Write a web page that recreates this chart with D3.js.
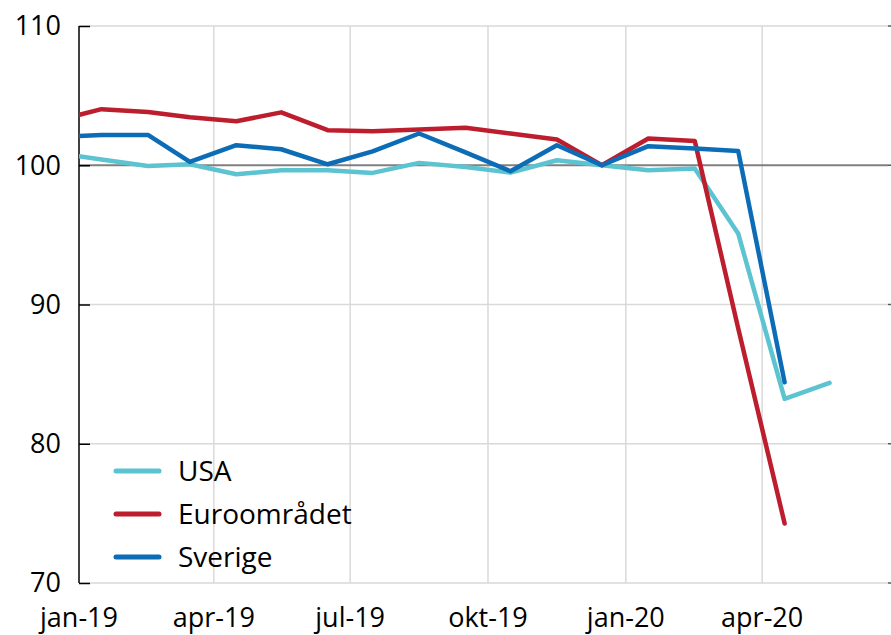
<!DOCTYPE html>
<html>
<head>
<meta charset="utf-8">
<script src="https://cdn.jsdelivr.net/npm/d3@7"></script>
<style>
    body { margin: 0; background: #fff; }
    svg { display: block; font-family: "Open Sans", sans-serif; }
</style>
</head>
<body>
<svg id="chart"></svg>
<script>
// månadsdata, dec-18 .. maj-20 (index, dec 2019 = 100)
const months = ["2018-12", "2019-01", "2019-02", "2019-03", "2019-04", "2019-05", "2019-06",
    "2019-07", "2019-08", "2019-09", "2019-10", "2019-11", "2019-12",
    "2020-01", "2020-02", "2020-03", "2020-04", "2020-05"];

const usa = [100.88, 100.42, 99.95, 100.07, 99.35, 99.64, 99.64, 99.45, 100.17,
    99.88, 99.47, 100.36, 100.0, 99.64, 99.76, 95.1, 83.22, 84.37];

const euro = [103.17, 104.03, 103.83, 103.45, 103.16, 103.8, 102.52, 102.45, 102.57,
    102.69, 102.28, 101.85, 100.0, 101.92, 101.75, 88.3, 74.27, null];

const sverige = [102.0, 102.18, 102.18, 100.24, 101.44, 101.15, 100.07, 101.0, 102.28,
    100.93, 99.57, 101.44, 100.0, 101.37, 101.2, 101.03, 84.41, null];

const seriesNames = ["USA", "Euroområdet", "Sverige"];
const seriesColors = ["#5cc3d1", "#bd1e2e", "#0c6db6"];

const tickMonths = ["2019-01", "2019-04", "2019-07", "2019-10", "2020-01", "2020-04"];
const tickLabels = ["jan-19", "apr-19", "jul-19", "okt-19", "jan-20", "apr-20"];
const yTicks = [70, 80, 90, 100, 110];

const width = 891;
const height = 635;
const margin = { top: 26, right: 3, bottom: 52, left: 79 };

const parseMonth = d3.timeParse("%Y-%m");
const midMonth = m => d3.timeDay.offset(parseMonth(m), 15);

const svg = d3.select("#chart")
    .attr("width", width)
    .attr("height", height);

const xScale = d3.scaleTime()
    .domain([new Date(2019, 0, 1), new Date(2020, 5, 24)])
    .range([margin.left, width - margin.right]);

const yScale = d3.scaleLinear()
    .domain([70, 110])
    .range([height - margin.bottom, margin.top]);

const x0 = margin.left;
const x1 = width - margin.right;

// horisontella stödlinjer
svg.append("g")
    .selectAll("line")
    .data(yTicks.filter(d => d !== 100))
    .enter()
    .append("line")
    .attr("x1", x0)
    .attr("x2", x1)
    .attr("y1", d => yScale(d))
    .attr("y2", d => yScale(d))
    .attr("stroke", "#d9d9d9")
    .attr("stroke-width", 1.5);

// vertikala stödlinjer
svg.append("g")
    .selectAll("line")
    .data(tickMonths.slice(1))
    .enter()
    .append("line")
    .attr("x1", d => xScale(parseMonth(d)))
    .attr("x2", d => xScale(parseMonth(d)))
    .attr("y1", yScale(110))
    .attr("y2", yScale(70))
    .attr("stroke", "#d9d9d9")
    .attr("stroke-width", 1.5);

// 100-linjen
svg.append("line")
    .attr("x1", x0)
    .attr("x2", x1)
    .attr("y1", yScale(100))
    .attr("y2", yScale(100))
    .attr("stroke", "#7f7f7f")
    .attr("stroke-width", 2);

// små streck i högerkanten
svg.append("g")
    .selectAll("line")
    .data(yTicks)
    .enter()
    .append("line")
    .attr("x1", x1)
    .attr("x2", width)
    .attr("y1", d => yScale(d))
    .attr("y2", d => yScale(d))
    .attr("stroke", "#595959")
    .attr("stroke-width", 1.5);

// y-axel
const yAxis = svg.append("g")
    .attr("transform", `translate(${x0},0)`)
    .call(d3.axisRight(yScale).tickValues(yTicks).tickSize(11).tickFormat(""));

yAxis.select(".domain").attr("d", `M0,${yScale(110)}V${yScale(70)}`).attr("stroke", "#000").attr("stroke-width", 1.5);
yAxis.selectAll(".tick line").attr("stroke", "#000").attr("stroke-width", 1.5);

svg.append("g")
    .selectAll("text")
    .data(yTicks)
    .enter()
    .append("text")
    .attr("x", 61)
    .attr("y", d => yScale(d))
    .attr("dy", "0.35em")
    .attr("text-anchor", "end")
    .attr("font-size", 27)
    .attr("fill", "#000")
    .text(d => d);

// x-etiketter
svg.append("g")
    .selectAll("text")
    .data(tickMonths)
    .enter()
    .append("text")
    .attr("x", d => xScale(parseMonth(d)))
    .attr("y", 627)
    .attr("text-anchor", "middle")
    .attr("font-size", 27)
    .attr("fill", "#000")
    .text((d, i) => tickLabels[i]);

// serier
svg.append("clipPath")
    .attr("id", "plot-clip")
    .append("rect")
    .attr("x", x0)
    .attr("y", 0)
    .attr("width", x1 - x0)
    .attr("height", height);

const line = d3.line()
    .defined(d => d.value !== null)
    .x(d => xScale(d.date))
    .y(d => yScale(d.value));

const seriesData = [usa, euro, sverige].map(values =>
    values.map((v, i) => ({ date: midMonth(months[i]), value: v })));

svg.append("g")
    .attr("clip-path", "url(#plot-clip)")
    .selectAll("path")
    .data(seriesData)
    .enter()
    .append("path")
    .attr("d", line)
    .attr("fill", "none")
    .attr("stroke", (d, i) => seriesColors[i])
    .attr("stroke-width", 4.5)
    .attr("stroke-linejoin", "round")
    .attr("stroke-linecap", "round");

// legend
const legend = svg.append("g")
    .selectAll("g")
    .data(seriesNames)
    .enter()
    .append("g")
    .attr("transform", (d, i) => `translate(116,${471 + i * 43})`);

legend.append("line")
    .attr("x1", 0)
    .attr("x2", 43)
    .attr("stroke", (d, i) => seriesColors[i])
    .attr("stroke-width", 5)
    .attr("stroke-linecap", "round");

legend.append("text")
    .attr("x", 62)
    .attr("dy", "0.35em")
    .attr("font-size", 28)
    .attr("fill", "#000")
    .text(d => d);
</script>
</body>
</html>
